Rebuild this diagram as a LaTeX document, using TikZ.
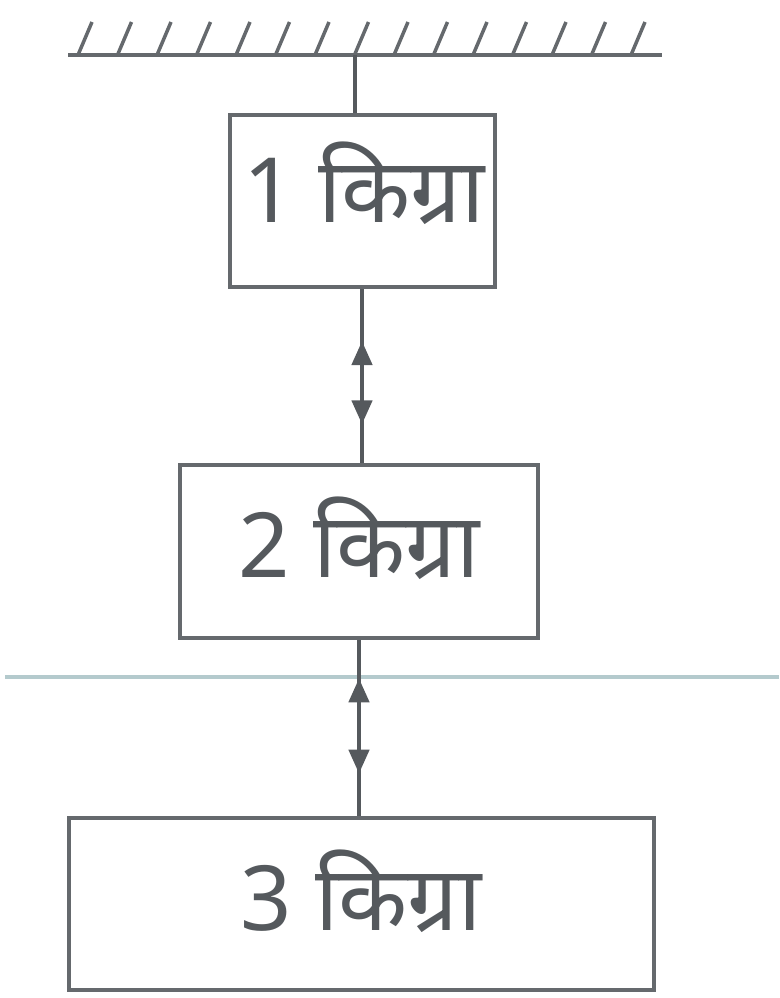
\documentclass[tikz,border=0pt]{standalone}
\usepackage{fontspec}
\newfontfamily\dev[Script=Devanagari]{Noto Sans}
\usetikzlibrary{arrows.meta,decorations.markings}
\definecolor{ink}{HTML}{65696D}
\definecolor{dark}{HTML}{55595D}
\definecolor{txt}{HTML}{55595D}
\definecolor{surf}{HTML}{B4CACD}
\tikzset{
  mass/.style={draw=ink, line width=4pt, rectangle, inner sep=0pt},
  masstext/.style={text=txt, inner sep=0pt, font=\dev\fontsize{90}{100}\selectfont},
  rope/.style={draw=dark, line width=4.5pt},
  tens/.style={rope, postaction={decorate}},
  hatchline/.style={draw=ink, line width=3.5pt},
}
\begin{document}
\begin{tikzpicture}[x=1pt,y=-1pt]
\useasboundingbox (0,0) rectangle (779,998);
% level line
\draw[surf, line width=4pt] (5,677) -- (779,677);
% ceiling
\draw[hatchline, line width=4pt] (68,55) -- (662,55);
\foreach \i in {0,...,14} \draw[hatchline] (78+39.5*\i,55) -- (92+39.5*\i,22);
\coordinate (c) at (355,55);
% masses
\node[mass, minimum width=265pt, minimum height=172pt,
  label={[masstext, name=t1, xshift=2pt, yshift=18pt]center:1 किग्रा}] (b1) at (362,201) {};
\node[mass, minimum width=358pt, minimum height=173pt,
  label={[masstext, name=t2, yshift=13pt]center:2 किग्रा}] (b2) at (359,551) {};
\node[mass, minimum width=585pt, minimum height=172pt,
  label={[masstext, name=t3, yshift=13pt]center:3 किग्रा}] (b3) at (361,904) {};
% strings
\draw[rope] (c) -- (c |- b1.north);
\draw[tens, decoration={markings,
   mark=at position 0.30 with {\arrowreversed{Triangle[length=24pt,width=20pt]}},
   mark=at position 0.78 with {\arrow{Triangle[length=24pt,width=20pt]}}}]
   (b1.south) -- (b1.south |- b2.north);
\draw[tens, decoration={markings,
   mark=at position 0.22 with {\arrowreversed{Triangle[length=24pt,width=20pt]}},
   mark=at position 0.76 with {\arrow{Triangle[length=24pt,width=20pt]}}}]
   (b2.south) -- (b2.south |- b3.north);
\end{tikzpicture}
\end{document}
